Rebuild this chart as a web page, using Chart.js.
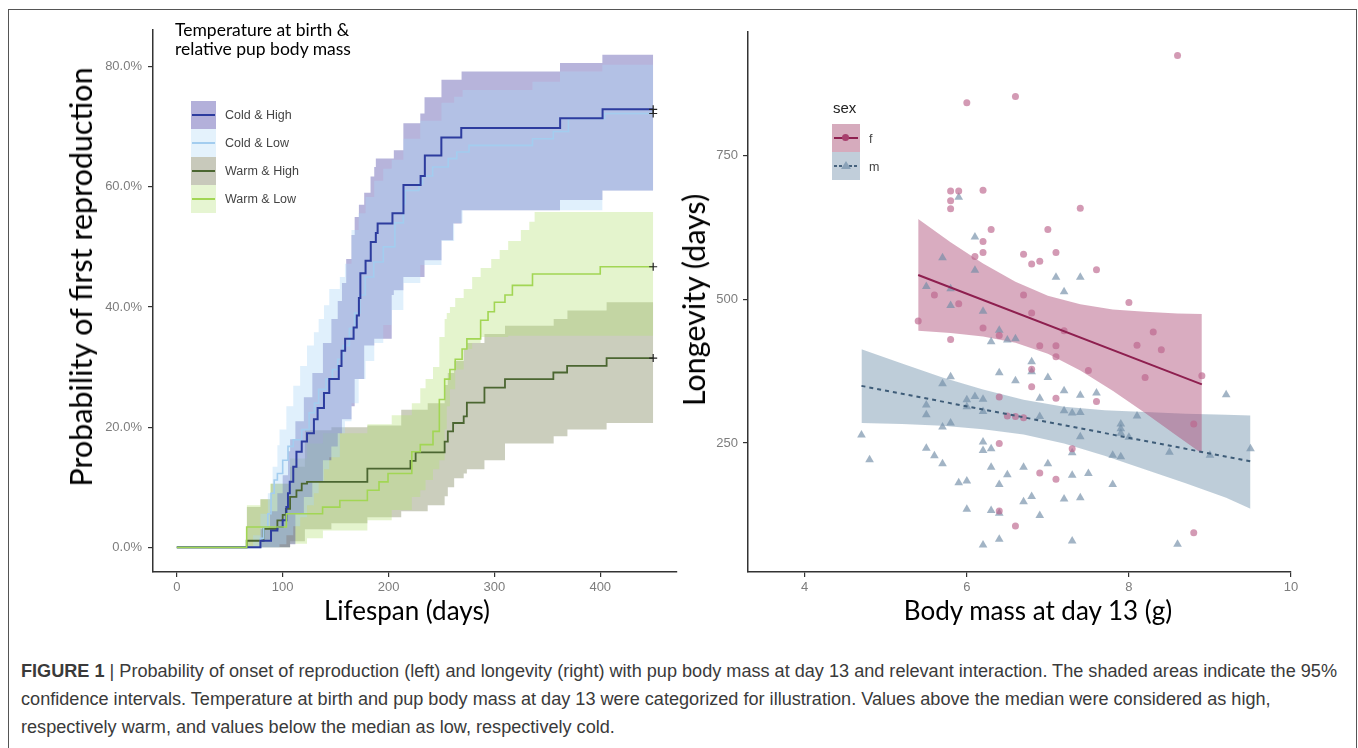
<!DOCTYPE html>
<html><head><meta charset="utf-8">
<script src="https://cdn.jsdelivr.net/npm/chart.js@4.4.1/dist/chart.umd.min.js"></script>
<style>
html,body{margin:0;padding:0;background:#fff;width:1358px;height:748px;overflow:hidden;position:relative;font-family:"Liberation Sans",Arial,sans-serif;}
#frame{position:absolute;left:8px;top:9px;width:1349px;height:780px;border:1.5px solid #555;box-sizing:border-box;}
canvas{position:absolute;}
#c1{left:0;top:0;}
#c2{left:660px;top:0;}
.t{position:absolute;white-space:nowrap;}
.ax{font-family:Lato,"Open Sans",sans-serif;font-size:26px;color:#000;transform:translate(-50%,-50%);}
.axv{font-size:30.5px;transform:translate(-50%,-50%) rotate(-90deg);}
.key{position:absolute;width:25px;height:28px;}
.key i{position:absolute;left:1px;right:1px;top:13px;height:2px;}
.lab{position:absolute;font-size:12.5px;color:#444;transform:translateY(-50%);}
#caption{position:absolute;left:21px;top:657px;font-size:15px;line-height:28px;color:#3a3a3a;white-space:nowrap;}
</style></head><body>
<div id="frame"></div>
<canvas id="c1" width="700" height="640"></canvas>
<canvas id="c2" width="680" height="640"></canvas>

<div class="t ax axv" style="left:80px;top:277px;">Probability of first reproduction</div>
<div class="t ax" style="left:407px;top:610px;">Lifespan (days)</div>
<div class="t ax axv" style="left:693px;top:300px;">Longevity (days)</div>
<div class="t ax" style="left:1038px;top:610px;">Body mass at day 13 (g)</div>

<div class="t" style="left:175px;top:20px;font-family:Lato,'Open Sans',sans-serif;font-size:17.5px;line-height:19px;color:#000;">Temperature at birth &amp;<br>relative pup body mass</div>
<div class="key" style="left:191px;top:101px;background:#b3b0da;"><i style="background:#2d3c9e;"></i></div>
<div class="key" style="left:191px;top:129px;background:#e4f2fc;"><i style="background:#a3cdef;"></i></div>
<div class="key" style="left:191px;top:157px;background:#c8c9bb;"><i style="background:#4b6631;"></i></div>
<div class="key" style="left:191px;top:185px;background:#e6f5d2;"><i style="background:#a2d654;"></i></div>
<div class="lab" style="left:225px;top:115px;">Cold &amp; High</div>
<div class="lab" style="left:225px;top:143px;">Cold &amp; Low</div>
<div class="lab" style="left:225px;top:171px;">Warm &amp; High</div>
<div class="lab" style="left:225px;top:199px;">Warm &amp; Low</div>

<div class="t" style="left:833px;top:99px;font-size:15px;color:#222;">sex</div>
<div class="key" style="left:832px;top:124px;width:28px;background:#d6abbd;"><i style="background:#8e1f4f;left:2px;right:2px;"></i><b style="position:absolute;left:10px;top:10px;width:7px;height:7px;border-radius:50%;background:#a8406e;"></b></div>
<div class="key" style="left:832px;top:152px;width:28px;background:#c1ceda;"><i style="background:repeating-linear-gradient(90deg,#46627d 0 3px,transparent 3px 5px);left:2px;right:2px;"></i><b style="position:absolute;left:9px;top:9px;width:0;height:0;border-left:5px solid transparent;border-right:5px solid transparent;border-bottom:8px solid #8aa2b8;"></b></div>
<div class="lab" style="left:869px;top:139px;">f</div>
<div class="lab" style="left:869px;top:167px;">m</div>

<div id="caption"><div id="cap1"><b>FIGURE 1</b> | Probability of onset of reproduction (left) and longevity (right) with pup body mass at day 13 and relevant interaction. The shaded areas indicate the 95%</div><div>confidence intervals. Temperature at birth and pup body mass at day 13 were categorized for illustration. Values above the median were considered as high,</div><div>respectively warm, and values below the median as low, respectively cold.</div></div>

<script>
// ---------- Left panel data (lifespan in days, probability in %) ----------
const lifeTicks = [0, 100, 200, 300, 400];
const probTicks = [0, 20, 40, 60, 80];
const probTickLabels = ['0.0%', '20.0%', '40.0%', '60.0%', '80.0%'];

const coldHigh = [[0,0],[79,1.1],[89,2.8],[95,3.4],[100,4.5],[103.5,6.7],[105,9.0],[106.7,10.9],[110,13.4],[113,15.9],[118,17.6],[123,19.0],[129.5,21.3],[133,23.2],[139,25.7],[144,28.0],[153,30.2],[155.6,32.7],[159,34.7],[167,36.6],[170,38.6],[172,41.5],[173.4,45.6],[178.3,47.7],[183.2,50.8],[188,52.3],[189.7,53.9],[203.7,55.6],[214.1,60.3],[230.3,61.8],[234.3,65.2],[249.9,68.2],[268.7,69.8],[362.1,71.4],[402.2,72.9],[450,72.9]];
const coldLow = [[0,0],[79,1.5],[82,3.4],[86,5.6],[89,9.0],[92,11.2],[95,12.3],[100,14.5],[105,16.8],[110,17.9],[118,19.6],[125,22.4],[130,24.0],[134,26.3],[141,28.0],[147,29.6],[152,31.3],[157,33.6],[163,36.4],[168,39.0],[173,42.0],[178,45.0],[186,47.5],[195,50.0],[206,54.0],[214,57.2],[215.7,59.4],[228.7,60.5],[232,61.8],[241.7,63.3],[256.4,64.7],[264.5,65.8],[276,66.9],[336,68.0],[355.6,69.2],[370,71.4],[404,72.2],[450,72.2]];
const warmHigh = [[0,0],[66,1.1],[82,3.1],[95,4.5],[100,5.4],[103,6.4],[107,8.4],[113,9.5],[118,10.6],[123,10.9],[180,13.1],[220.7,14.4],[225.6,15.8],[253,17.6],[256,19.3],[261,20.7],[271,21.8],[274,24.1],[290.6,26.6],[310,28.0],[355.7,29.1],[368.7,30.2],[406,31.5],[450,31.5]];
const warmLow = [[0,0],[66,3.4],[103.5,5.6],[137.7,6.7],[154,7.8],[180,9.5],[191,10.9],[199.5,12.3],[222,15.9],[230,17.1],[242,19.3],[248,24.6],[253,28.0],[258,29.6],[263,31.3],[269.5,33.0],[274,34.7],[287,37.8],[294,39.2],[300,40.8],[310,42.0],[317,43.6],[336,45.5],[400,46.7],[450,46.7]];

// confidence bands: [day, lower %, upper %]
const coldHighBand = [[79,0,3],[88,0,6],[95,0,9],[100,0,12],[105,0,16],[107,0.5,18],[112,5.6,21],[120,8.4,25],[128,11,29],[138,14.5,34],[146,16.8,38],[152,19,41],[156,21.3,44],[160,21.3,48],[165,23.5,52],[168,28,55],[172,28,57],[177,33.6,59],[183,33.6,61.7],[186.5,34.7,63.3],[188,34.7,64.7],[203,42,64.7],[205,42.8,66.1],[214,45,70.6],[230,45,72.2],[234,47.8,74.9],[250,51.1,77.8],[261,53.9,77.8],[269,56.1,79.2],[362,57.8,80.6],[402,59.4,82],[450,59.4,82]];
const coldLowBand = [[72,0,2],[79,0,5.6],[86,0,9],[90.5,0,13.4],[95,0,17],[97,0.5,19.6],[103.5,2,23.5],[110,3.5,26.9],[116.5,5,30.2],[123,7,33.6],[129.5,9,35.8],[134,11,38],[139,13,40.3],[144,15,43],[154,19,45],[158.8,21,47.2],[165,24,52.8],[171.8,28,55.6],[178.3,31,58.3],[186.5,34,61],[195,37,63],[203,39.5,64.5],[214,44,68],[230,47,71],[250,51,74],[262,54,75],[270,56.1,76.1],[336,56.1,77.5],[362,56.1,79.2],[402,59.4,80.3],[450,59.4,80.3]];
const warmHighBand = [[66,0,6.7],[79,0,8],[89,0,10.6],[107,1,13.4],[121,3,19.5],[146,4,20],[180,5,20.3],[212,6,22.9],[237,7,24],[253,8.5,27],[256,10,29],[262,11.5,31],[271,12.3,33],[274,13,34],[290.6,14.5,35.5],[310,17.3,36.9],[356,18.5,38],[369,19.6,39.4],[406,20.7,40.8],[450,20.7,40.8]];
const warmLowBand = [[66,0,7],[79,0,8],[88,0,10.6],[107,0.6,14.8],[123,1.5,17.3],[138,2.8,19],[180,4.5,20.5],[203,6.2,22],[222,8.4,24],[230,9.5,26.5],[235,11.2,28],[242,13,30],[248,14.5,35],[253,19.6,38],[255,23.5,39],[258,26.3,40],[263,29.6,41.5],[271,33,43],[279,34,45],[287,35,46.5],[297,35,48],[305,35,49.5],[313,35.2,51],[325,35.2,52.8],[333,35.2,54.2],[338,35.2,55.8],[450,35.2,55.8]];

const censorDay = 450;
const censorValues = [72.9, 72.2, 46.7, 31.5];

// ---------- Right panel data (body mass g, longevity days) ----------
const massTicks = [4, 6, 8, 10];
const longTicks = [250, 500, 750];

const femalePoints = [[8.6,923],[6.0,841],[6.6,852],[5.8,688],[5.9,688],[5.8,671],[5.8,657],[6.2,689],[7.4,658],[6.3,621],[7.0,621],[6.2,600],[6.2,581],[6.1,574],[6.7,578],[7.1,581],[6.8,561],[6.9,566],[7.6,551],[5.6,507],[5.9,492],[6.7,507],[8.0,494],[5.4,462],[6.8,476],[6.2,450],[6.4,437],[5.8,430],[7.2,445],[8.3,443],[8.1,420],[8.4,412],[6.9,419],[7.1,419],[7.1,400],[7.5,376],[8.2,364],[8.9,367],[6.8,378],[6.8,348],[6.4,330],[7.1,328],[7.6,322],[6.5,297],[6.6,296],[6.7,294],[8.8,283],[6.4,249],[7.3,240],[6.9,198],[7.1,187],[6.4,132],[6.6,106],[8.8,94]];
const malePoints = [[5.9,677],[6.1,608],[5.7,572],[6.1,550],[7.1,538],[7.4,538],[7.2,513],[5.5,522],[5.8,518],[5.8,489],[6.2,479],[6.4,446],[6.6,431],[6.5,429],[6.3,426],[6.8,391],[6.4,372],[6.8,374],[6.6,358],[7.0,364],[5.8,365],[5.7,353],[7.2,341],[7.4,333],[7.6,337],[6.9,328],[6.1,331],[6.2,326],[6.0,325],[6.0,313],[5.5,316],[5.5,299],[6.2,305],[7.2,306],[7.3,302],[7.4,303],[6.9,296],[5.8,285],[5.7,278],[8.1,297],[9.2,334],[7.9,283],[7.9,275],[7.9,267],[8.0,260],[7.4,261],[4.7,264],[4.8,221],[5.5,241],[5.6,228],[5.7,214],[6.2,252],[6.2,237],[6.3,240],[7.3,233],[7.8,229],[7.9,226],[8.5,234],[9.0,229],[9.5,240],[6.3,208],[6.5,195],[6.7,208],[7.0,214],[7.3,194],[7.5,197],[5.9,181],[6.0,184],[6.4,178],[7.8,178],[6.8,157],[6.7,148],[7.2,153],[7.4,155],[6.0,135],[6.3,133],[6.4,128],[6.9,124],[6.2,73],[6.4,83],[7.3,80],[8.6,74]];

const femaleFit = [[5.4,542],[8.9,352]];
const maleFit = [[4.7,349.3],[9.5,218.2]];
// [mass, lower, upper]
const femaleBand = [[5.4,445,639],[5.8,441,599],[6.2,435,562],[6.6,424,530],[7.0,405,506],[7.4,376,491],[7.8,341,482],[8.2,302,478],[8.6,262,475],[8.9,232,474]];
const maleBand = [[4.7,285,413],[5.2,283,388],[5.7,280,364],[6.2,274,343],[6.7,265,325],[7.2,249,313],[7.7,228,307],[8.2,204,304],[8.7,180,301],[9.2,155,299],[9.5,136,298]];

// ---------- helpers ----------
const pts = a => a.map(p => ({x: p[0], y: p[1]}));
const loPts = a => a.map(p => ({x: p[0], y: p[1]}));
const hiPts = a => a.map(p => ({x: p[0], y: p[2]}));
const NONE = 'rgba(0,0,0,0)';

function band(arr, color, order, stepped) {
  return [
    {data: loPts(arr), showLine: true, stepped, borderColor: NONE, borderWidth: 0, pointRadius: 0, fill: false, order},
    {data: hiPts(arr), showLine: true, stepped, borderColor: NONE, borderWidth: 0, pointRadius: 0, backgroundColor: color, fill: '-1', order}
  ];
}
function curve(arr, color, width, order) {
  return {data: pts(arr), showLine: true, stepped: true, borderColor: color, borderWidth: width, pointRadius: 0, fill: false, order};
}

const tickFont = {family: '"Liberation Sans", Arial, sans-serif', size: 13};
function axis(min, max, tickVals, labels, fitKey, fitVal, pad) {
  return {
    type: 'linear', min, max,
    afterBuildTicks: s => { s.ticks = tickVals.map(v => ({value: v})); },
    afterFit: s => { s[fitKey] = fitVal; },
    ticks: {color: '#7d7d7d', font: tickFont, padding: pad, maxRotation: 0, autoSkip: false,
            callback: (v, i) => labels[i]},
    grid: {drawOnChartArea: false, drawTicks: true, tickLength: 5, color: '#333', lineWidth: 1.2},
    border: {display: true, color: '#333', width: 1.5}
  };
}
const common = {responsive: false, animation: false, devicePixelRatio: 1,
  plugins: {legend: {display: false}, tooltip: {enabled: false}}};

// ---------- Left chart ----------
new Chart(document.getElementById('c1'), {
  type: 'scatter',
  data: {datasets: [
    {data: censorValues.map(v => ({x: censorDay, y: v})), pointStyle: 'cross', pointRadius: 4, borderColor: '#222', borderWidth: 1.2, order: 0},
    curve(warmLow, '#a2d654', 1.6, 1),
    curve(coldHigh, '#2d3c9e', 2, 2),
    curve(coldLow, '#a3cdef', 1.6, 3),
    curve(warmHigh, '#4b6631', 1.8, 4),
    ...band(coldLowBand, 'rgba(173,216,247,0.38)', 10, true),
    ...band(coldHighBand, 'rgba(66,58,160,0.38)', 11, true),
    ...band(warmLowBand, 'rgba(180,224,116,0.36)', 12, true),
    ...band(warmHighBand, 'rgba(102,111,61,0.34)', 13, true)
  ]},
  options: Object.assign({}, common, {
    layout: {padding: {left: 0, right: 23, top: 30, bottom: 0}},
    scales: {
      x: axis(-22.5, 472.5, lifeTicks, lifeTicks.map(String), 'height', 68, 3),
      y: axis(-4.1, 86.1, probTicks, probTickLabels, 'width', 153, 6)
    }
  })
});

// ---------- Right chart ----------
new Chart(document.getElementById('c2'), {
  type: 'scatter',
  data: {datasets: [
    {data: pts(femaleFit), showLine: true, borderColor: '#8e1f4f', borderWidth: 2, pointRadius: 0, fill: false, order: 0},
    {data: pts(maleFit), showLine: true, borderColor: '#3e5c78', borderWidth: 2, borderDash: [4, 4], pointRadius: 0, fill: false, order: 1},
    {data: pts(femalePoints), pointStyle: 'circle', pointRadius: 3.5, backgroundColor: 'rgba(188,100,140,0.65)', borderWidth: 0, order: 2},
    {data: pts(malePoints), pointStyle: 'triangle', pointRadius: 5, backgroundColor: 'rgba(112,140,166,0.65)', borderWidth: 0, order: 3},
    ...band(femaleBand, 'rgba(170,70,115,0.45)', 4, false),
    ...band(maleBand, 'rgba(100,135,165,0.42)', 5, false)
  ]},
  options: Object.assign({}, common, {
    layout: {padding: {left: 0, right: 49, top: 32, bottom: 0}},
    scales: {
      x: axis(3.3, 10.0, massTicks, massTicks.map(String), 'height', 68, 3),
      y: axis(26, 964, longTicks, longTicks.map(String), 'width', 88, 5)
    }
  })
});

// fit caption first line to the figure width
(function(){
  const cap = document.getElementById('caption');
  const l1 = document.getElementById('cap1');
  const w = l1.getBoundingClientRect().width;
  cap.style.fontSize = (15 * 1316 / w).toFixed(2) + 'px';
})();
</script>
</body></html>
